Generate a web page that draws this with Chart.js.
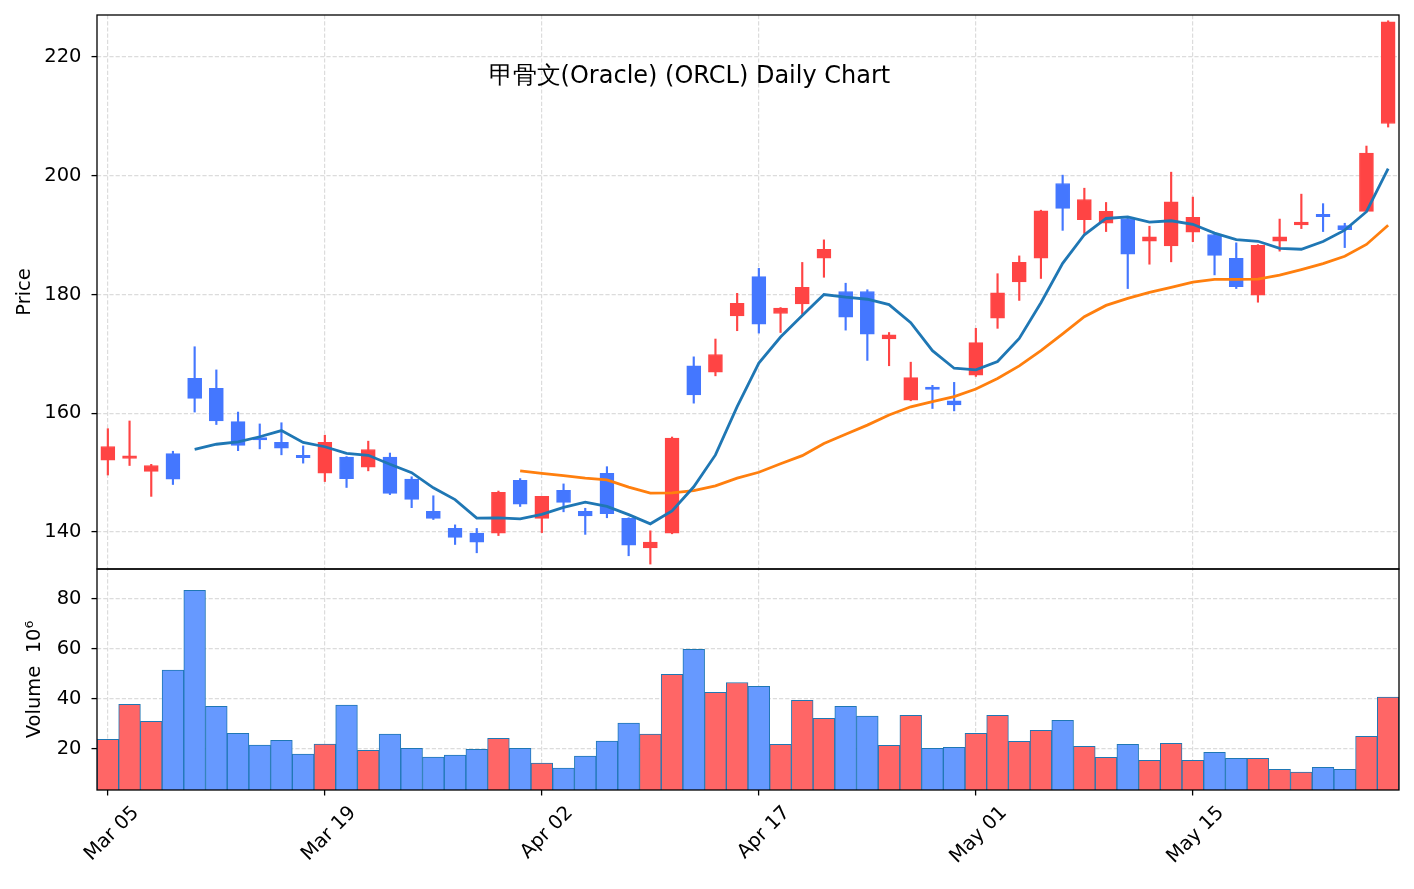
<!DOCTYPE html>
<html>
<head>
<meta charset="utf-8">
<title>ORCL Daily Chart</title>
<script src="https://cdn.jsdelivr.net/npm/chart.js@4.4.1/dist/chart.umd.min.js"></script>
<style>
  body { margin: 0; background: #fff; }
  #wrap { width: 1414px; height: 889px; }
</style>
</head>
<body>
<div id="wrap"><canvas id="chart" width="1414" height="889"></canvas></div>
<script>
const chartTitle = "甲骨文(Oracle) (ORCL) Daily Chart";

const dates = [
  "Mar 05", "Mar 06", "Mar 07", "Mar 10", "Mar 11", "Mar 12", "Mar 13", "Mar 14", "Mar 17", "Mar 18",
  "Mar 19", "Mar 20", "Mar 21", "Mar 24", "Mar 25", "Mar 26", "Mar 27", "Mar 28", "Mar 31", "Apr 01",
  "Apr 02", "Apr 04", "Apr 07", "Apr 08", "Apr 09", "Apr 10", "Apr 11", "Apr 14", "Apr 15", "Apr 16",
  "Apr 17", "Apr 18", "Apr 21", "Apr 22", "Apr 23", "Apr 24", "Apr 25", "Apr 28", "Apr 29", "Apr 30",
  "May 01", "May 02", "May 05", "May 06", "May 07", "May 08", "May 09", "May 12", "May 13", "May 14",
  "May 15", "May 16", "May 19", "May 20", "May 21", "May 22", "May 23", "May 27", "May 28", "May 29"
];

const open = [
  152.1, 152.4, 150.2, 153.2, 165.9, 164.2, 158.6, 155.7, 155.1, 152.9,
  149.9, 152.6, 150.9, 152.6, 148.9, 143.5, 140.6, 139.8, 139.8, 148.7,
  142.3, 147.0, 143.5, 149.9, 142.3, 137.3, 139.8, 168.0, 166.9, 176.4,
  183.0, 176.8, 178.4, 186.1, 180.5, 180.5, 172.5, 162.2, 164.2, 162.1,
  166.4, 176.0, 182.1, 186.1, 198.7, 192.6, 192.0, 192.8, 189.0, 188.2,
  190.5, 190.1, 186.1, 179.9, 189.0, 191.7, 193.3, 191.6, 194.0, 208.8
];
const high = [
  157.4, 158.7, 151.4, 153.6, 171.2, 167.3, 160.2, 158.2, 158.4, 154.5,
  156.3, 152.7, 155.3, 153.3, 149.3, 146.1, 141.2, 140.6, 146.9, 149.0,
  146.0, 148.1, 144.0, 151.0, 142.4, 140.2, 156.0, 169.5, 172.5, 180.2,
  184.4, 177.8, 185.4, 189.2, 181.9, 180.8, 173.6, 168.6, 164.7, 165.2,
  174.3, 183.5, 186.5, 194.2, 200.1, 197.9, 195.5, 193.0, 191.5, 200.6,
  196.4, 190.3, 188.7, 188.4, 192.7, 196.9, 195.3, 192.0, 205.0, 226.1
];
const low = [
  149.6, 151.2, 146.0, 148.0, 160.2, 158.1, 153.7, 154.0, 153.0, 151.6,
  148.5, 147.5, 150.3, 146.3, 144.1, 142.1, 137.9, 136.5, 139.4, 144.3,
  139.9, 143.4, 139.6, 142.4, 136.0, 134.6, 139.7, 161.7, 166.3, 173.9,
  173.5, 173.6, 176.7, 182.9, 174.0, 168.9, 168.0, 162.1, 160.8, 160.4,
  166.2, 174.3, 179.0, 182.7, 190.8, 190.3, 190.6, 181.0, 185.1, 185.5,
  188.9, 183.3, 181.0, 178.7, 187.3, 191.1, 190.6, 187.9, 193.9, 208.2
];
const close = [
  154.4, 152.6, 151.2, 148.9, 162.5, 158.7, 154.6, 155.5, 154.1, 152.5,
  155.1, 149.0, 153.9, 146.5, 145.5, 142.3, 139.1, 138.3, 146.7, 144.7,
  146.0, 145.0, 142.7, 143.1, 137.8, 138.3, 155.8, 163.1, 169.9, 178.5,
  175.0, 177.7, 181.2, 187.6, 176.2, 173.3, 173.2, 166.0, 164.0, 161.4,
  171.9, 180.3, 185.4, 194.1, 194.5, 196.0, 194.0, 186.8, 189.7, 195.6,
  193.0, 186.6, 181.3, 188.3, 189.7, 192.2, 193.1, 190.9, 203.8, 225.9
];
// volume in millions
const volume = [
  23.9, 37.9, 31.1, 51.6, 83.5, 37.1, 26.3, 21.6, 23.5, 18.0,
  22.0, 37.6, 19.5, 26.0, 20.3, 16.8, 17.6, 19.9, 24.3, 20.3,
  14.4, 12.4, 17.2, 23.2, 30.4, 26.0, 49.9, 59.9, 42.7, 46.6,
  45.1, 21.9, 39.5, 32.3, 37.1, 33.2, 21.5, 33.5, 20.3, 20.7,
  26.3, 33.5, 23.1, 27.5, 31.5, 21.1, 16.7, 21.9, 15.5, 22.3,
  15.5, 18.7, 16.3, 16.3, 11.9, 10.8, 12.7, 11.9, 25.1, 40.8
];
const priceTicks = [140, 160, 180, 200, 220];
const volumeTicks = [20, 40, 60, 80];

const UP = "#ff4444", DOWN = "#4477ff";
const UP_VOL = "#ff6666", DOWN_VOL = "#6699ff";
const GRID = "#dcdcdc";
const FONT = "DejaVu Sans";

function movingAvg(values, n) {
  return values.map((v, i) => {
    if (i < n - 1) return null;
    let sum = 0;
    for (let k = i - n + 1; k <= i; k++) sum += values[k];
    return sum / n;
  });
}

const isUp = close.map((c, i) => c >= open[i]);
const candleColors = isUp.map(u => u ? UP : DOWN);
const volColors = isUp.map(u => u ? UP_VOL : DOWN_VOL);

const ma5 = movingAvg(close, 5);
const ma20 = movingAvg(close, 20);

const titlePlugin = {
  id: "titleText",
  afterDraw(chart) {
    const ctx = chart.ctx;
    const area = chart.chartArea;
    ctx.save();
    ctx.font = `24px "${FONT}"`;
    ctx.fillStyle = "#000";
    ctx.textAlign = "center";
    ctx.textBaseline = "alphabetic";
    ctx.fillText(chartTitle, area.left + (area.right - area.left) * 0.455, area.top + 68);
    ctx.restore();
  }
};

const framePlugin = {
  id: "frames",
  afterDraw(chart) {
    const ctx = chart.ctx;
    const area = chart.chartArea;
    ctx.save();
    ctx.strokeStyle = "#000";
    ctx.lineWidth = 1.3;
    ["yPrice", "yVol"].forEach(id => {
      const s = chart.scales[id];
      ctx.strokeRect(area.left, s.top, area.right - area.left, s.bottom - s.top);
    });
    ctx.restore();
  }
};

function fixedTicks(list) {
  return scale => {
    scale.ticks = list.map(v => ({ value: v }));
  };
}

function fixedWidth(scale) {
  scale.width = 97;
  scale.paddingTop = 0;
  scale.paddingBottom = 0;
}

Chart.defaults.font.family = FONT;
Chart.defaults.color = "#000";

new Chart(document.getElementById("chart"), {
  type: "bar",
  data: {
    labels: dates,
    datasets: [
      {
        type: "line",
        label: "MA5",
        data: ma5,
        yAxisID: "yPrice",
        borderColor: "#1f77b4",
        borderWidth: 2.8,
        pointRadius: 0,
        tension: 0,
        order: 1
      },
      {
        type: "line",
        label: "MA20",
        data: ma20,
        yAxisID: "yPrice",
        borderColor: "#ff7f0e",
        borderWidth: 2.8,
        pointRadius: 0,
        tension: 0,
        order: 1
      },
      {
        label: "Body",
        data: open.map((o, i) => [o, close[i]]),
        yAxisID: "yPrice",
        backgroundColor: candleColors,
        borderColor: candleColors,
        borderWidth: 1,
        borderSkipped: false,
        barThickness: 14,
        minBarLength: 2.5,
        grouped: false,
        order: 2
      },
      {
        label: "Wick",
        data: low.map((l, i) => [l, high[i]]),
        yAxisID: "yPrice",
        backgroundColor: candleColors,
        borderWidth: 0,
        barThickness: 1.5,
        grouped: false,
        order: 3
      },
      {
        label: "Volume",
        data: volume,
        yAxisID: "yVol",
        backgroundColor: volColors,
        borderColor: "#1f77b4",
        borderWidth: 1,
        borderSkipped: false,
        barPercentage: 1,
        categoryPercentage: 1,
        grouped: false,
        order: 4
      }
    ]
  },
  options: {
    responsive: false,
    animation: false,
    devicePixelRatio: 1,
    layout: { padding: { top: 15, right: 15, left: 0, bottom: 0 } },
    plugins: {
      legend: { display: false },
      tooltip: { enabled: false }
    },
    scales: {
      x: {
        type: "category",
        offset: true,
        afterBuildTicks: scale => {
          scale.ticks = scale.ticks.filter(t => t.value % 10 === 0);
        },
        afterFit: scale => {
          scale.height = 99;
          scale.paddingLeft = 0;
          scale.paddingRight = 0;
        },
        grid: {
          offset: false,
          color: GRID,
          lineWidth: 1.2,
          tickColor: "#000",
          tickLength: 5.5,
          tickWidth: 1.3
        },
        border: { display: false, dash: [4.2, 2] },
        ticks: {
          autoSkip: false,
          minRotation: 45,
          maxRotation: 45,
          labelOffset: 28,
          padding: 6,
          font: { size: 19.5 }
        }
      },
      yVol: {
        type: "linear",
        position: "left",
        stack: "panels",
        stackWeight: 221,
        min: 3.6,
        max: 92,
        afterBuildTicks: fixedTicks(volumeTicks),
        afterFit: fixedWidth,
        grid: {
          color: GRID,
          lineWidth: 1.2,
          tickColor: "#000",
          tickLength: 5.5,
          tickWidth: 1.3
        },
        border: { display: false, dash: [4.2, 2] },
        ticks: { padding: 10, font: { size: 19.5 } },
        title: {
          display: true,
          text: "Volume  10⁶",
          font: { size: 19.5 },
          padding: { top: 23, bottom: 0 }
        }
      },
      yPrice: {
        type: "linear",
        position: "left",
        stack: "panels",
        stackWeight: 554,
        min: 133.77,
        max: 227.07,
        afterBuildTicks: fixedTicks(priceTicks),
        afterFit: fixedWidth,
        grid: {
          color: GRID,
          lineWidth: 1.2,
          tickColor: "#000",
          tickLength: 5.5,
          tickWidth: 1.3
        },
        border: { display: false, dash: [4.2, 2] },
        ticks: { padding: 10, font: { size: 19.5 } },
        title: {
          display: true,
          text: "Price",
          font: { size: 19.5 },
          padding: { top: 13, bottom: 0 }
        }
      }
    }
  },
  plugins: [titlePlugin, framePlugin]
});
</script>
</body>
</html>
